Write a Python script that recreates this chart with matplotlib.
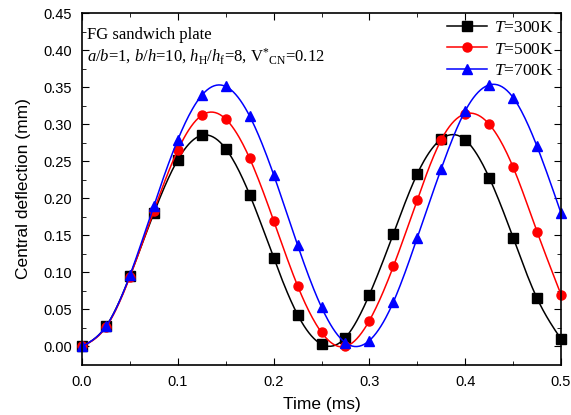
import numpy as np
import matplotlib
matplotlib.use('Agg')
import matplotlib.pyplot as plt

plt.rcParams['font.family'] = 'Liberation Sans'
plt.rcParams['mathtext.fontset'] = 'custom'
plt.rcParams['mathtext.rm'] = 'Liberation Serif'
plt.rcParams['mathtext.it'] = 'Liberation Serif:italic'

# time points (ms)
time = np.arange(21) * 0.025

w300 = [0.000, 0.027, 0.095, 0.180, 0.252, 0.285, 0.267, 0.205, 0.120, 0.043, 0.003,
        0.012, 0.070, 0.152, 0.233, 0.280, 0.279, 0.228, 0.147, 0.065, 0.010]
w500 = [0.000, 0.026, 0.094, 0.183, 0.265, 0.312, 0.307, 0.254, 0.170, 0.082, 0.019,
        0.000, 0.035, 0.108, 0.198, 0.279, 0.314, 0.300, 0.242, 0.155, 0.070]
w700 = [0.000, 0.027, 0.096, 0.190, 0.279, 0.339, 0.351, 0.311, 0.232, 0.137, 0.053,
        0.005, 0.008, 0.060, 0.147, 0.240, 0.318, 0.353, 0.336, 0.270, 0.180]

labels = ['$T$=300K', '$T$=500K', '$T$=700K']
colors = ['black', 'red', 'blue']
markers = ['s', 'o', '^']


def spline(x, y, n=400):
    # natural cubic spline, only for drawing the smooth line
    x = np.asarray(x, float)
    y = np.asarray(y, float)
    h = np.diff(x)
    N = len(x)
    A = np.zeros((N, N))
    b = np.zeros(N)
    A[0, 0] = 1
    A[-1, -1] = 1
    for i in range(1, N - 1):
        A[i, i - 1] = h[i - 1]
        A[i, i] = 2 * (h[i - 1] + h[i])
        A[i, i + 1] = h[i]
        b[i] = 6 * ((y[i + 1] - y[i]) / h[i] - (y[i] - y[i - 1]) / h[i - 1])
    M = np.linalg.solve(A, b)
    xs = np.linspace(x[0], x[-1], n)
    k = np.clip(np.searchsorted(x, xs) - 1, 0, N - 2)
    t1 = x[k + 1] - xs
    t0 = xs - x[k]
    hk = h[k]
    ys = (M[k] * t1**3 / (6 * hk) + M[k + 1] * t0**3 / (6 * hk)
          + (y[k] / hk - M[k] * hk / 6) * t1 + (y[k + 1] / hk - M[k + 1] * hk / 6) * t0)
    return xs, ys


fig = plt.figure(figsize=(5.71, 4.15), dpi=100)
ax = fig.add_axes([0.1436, 0.1205, 0.8389, 0.848])

for w, lab, c, m in zip([w300, w500, w700], labels, colors, markers):
    xs, ys = spline(time, w)
    ax.plot(xs, ys, color=c, lw=1.1)
    ax.plot(time, w, ls='none', marker=m, color=c, ms=6.5, clip_on=False)
    ax.plot([], [], color=c, lw=1.1, marker=m, ms=6.5, label=lab)

ax.set_xlim(0, 0.5)
ax.set_ylim(-0.025, 0.45)
ax.set_xticks(np.arange(0, 0.51, 0.1))
ax.set_xticks(np.arange(0, 0.51, 0.05), minor=True)
ax.set_yticks(np.arange(0, 0.451, 0.05))
ax.set_yticks(np.arange(0, 0.451, 0.025), minor=True)
ax.set_xticklabels(['0.0', '0.1', '0.2', '0.3', '0.4', '0.5'])
ax.set_yticklabels(['%.2f' % v for v in np.arange(0, 0.451, 0.05)])
ax.tick_params(which='both', direction='in', top=True, right=True, labelsize=10.5)
ax.tick_params(which='major', length=5, pad=7)
ax.tick_params(which='minor', length=3)
for s in ax.spines.values():
    s.set_linewidth(1.2)

ax.set_xlabel('Time (ms)', fontsize=12.5, labelpad=6)
ax.set_ylabel('Central deflection (mm)', fontsize=12.5, labelpad=9)

ax.text(0.01, 0.96, 'FG sandwich plate', transform=ax.transAxes, ha='left', va='top',
        fontsize=12, family='Liberation Serif')
ax.text(0.01, 0.905, r'$a/b$=1, $b/h$=10, $h_{\rm H}/h_{\rm f}$=8, V$^{*}{}_{\rm CN}$=0.12',
        transform=ax.transAxes, ha='left', va='top', fontsize=12, family='Liberation Serif')

ax.legend(loc='upper right', bbox_to_anchor=(0.999, 1.0), frameon=False, handlelength=2.3,
          borderaxespad=0.0, labelspacing=0.3, handletextpad=0.4,
          prop={'family': 'Liberation Serif', 'size': 12.5})

fig.savefig('out.png', dpi=100)
